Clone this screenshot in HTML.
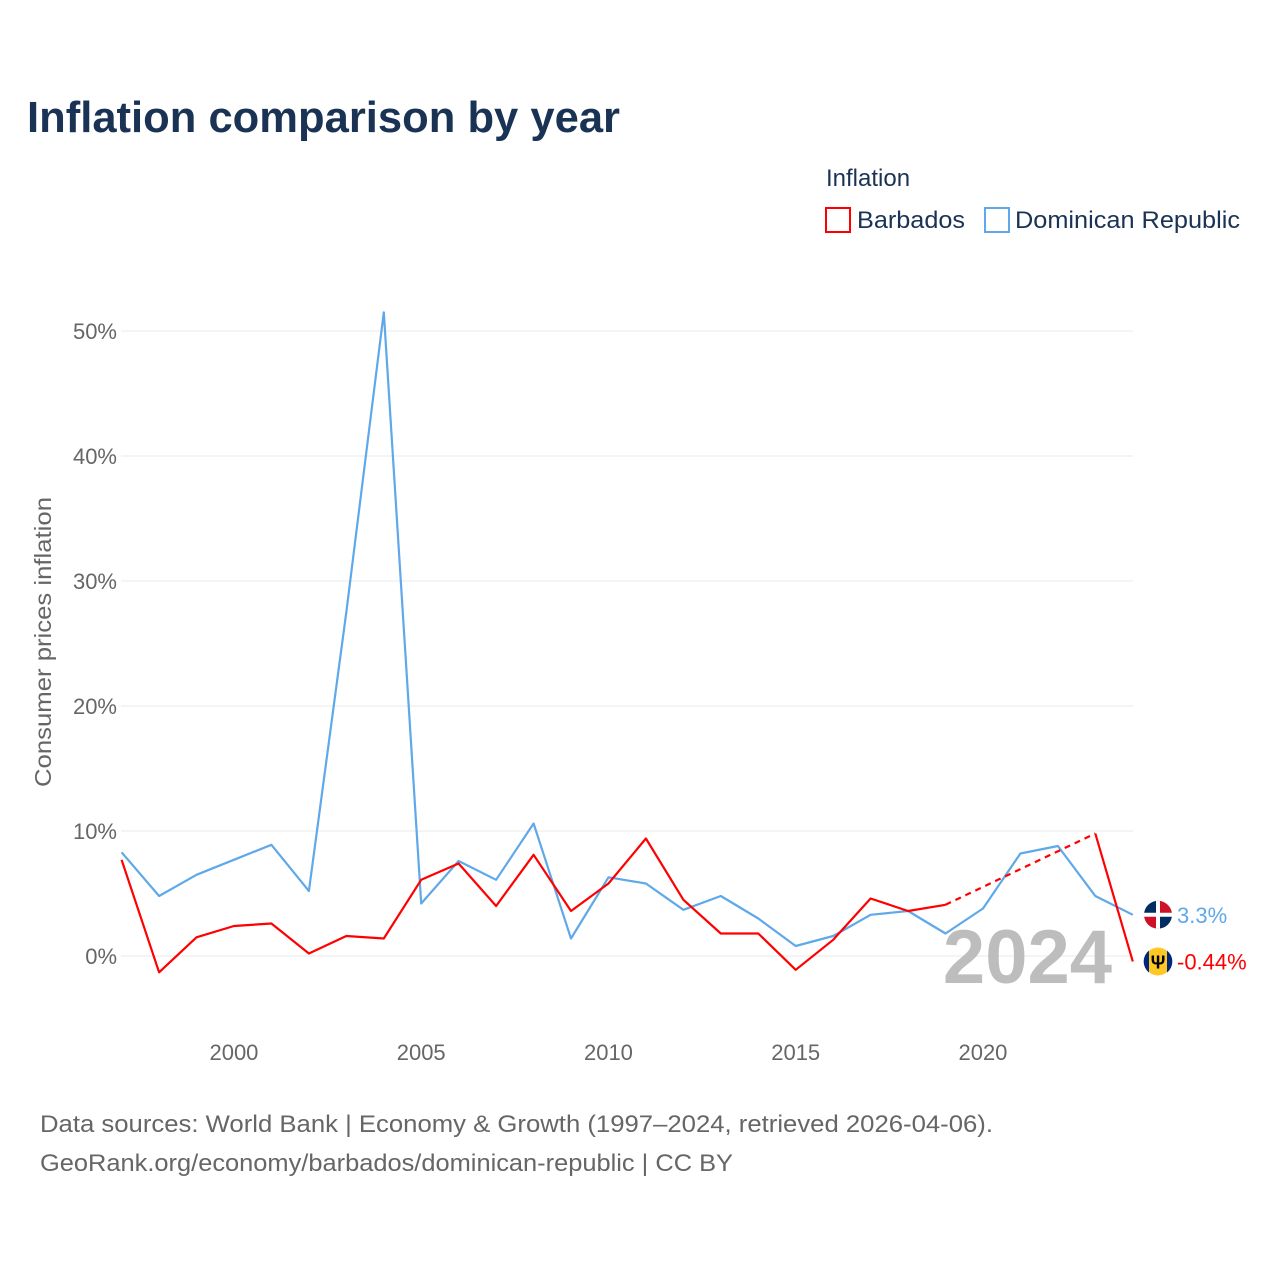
<!DOCTYPE html>
<html><head><meta charset="utf-8"><style>
body{margin:0;background:#fff;font-family:"Liberation Sans",sans-serif}
</style></head><body>
<svg id="chart" width="1280" height="1280" xmlns="http://www.w3.org/2000/svg" font-family="Liberation Sans, sans-serif">
<rect width="1280" height="1280" fill="#fff"/>
<text x="27" y="132" font-size="44" font-weight="bold" fill="#1a3355" textLength="593" lengthAdjust="spacingAndGlyphs">Inflation comparison by year</text>
<text x="826" y="186" font-size="24" fill="#1a3355">Inflation</text>
<g><rect x="826" y="208" width="24" height="24" fill="none" stroke="#ff0000" stroke-width="2"/><text x="857" y="228" font-size="24" fill="#1a3355" textLength="108" lengthAdjust="spacingAndGlyphs">Barbados</text></g>
<g><rect x="985" y="208" width="24" height="24" fill="none" stroke="#5fa8ea" stroke-width="2"/><text x="1015" y="228" font-size="24" fill="#1a3355" textLength="225" lengthAdjust="spacingAndGlyphs">Dominican Republic</text></g>
<text transform="translate(51,642) rotate(-90)" text-anchor="middle" font-size="23" fill="#666" textLength="290" lengthAdjust="spacingAndGlyphs">Consumer prices inflation</text>
<g id="grid"></g><g id="xt"></g>
<text x="1112" y="983" text-anchor="end" font-size="76" font-weight="bold" fill="#bdbdbd">2024</text>
<g id="series"></g>
<text x="40" y="1132" font-size="24" fill="#666" textLength="953" lengthAdjust="spacingAndGlyphs">Data sources: World Bank | Economy &amp; Growth (1997–2024, retrieved 2026-04-06).</text>
<text x="40" y="1171" font-size="24" fill="#666" textLength="693" lengthAdjust="spacingAndGlyphs">GeoRank.org/economy/barbados/dominican-republic | CC BY</text>
</svg>
<script>
const years=[1997,1998,1999,2000,2001,2002,2003,2004,2005,2006,2007,2008,2009,2010,2011,2012,2013,2014,2015,2016,2017,2018,2019,2020,2021,2022,2023,2024];
const barbados=[7.7,-1.3,1.5,2.4,2.6,0.2,1.6,1.4,6.1,7.4,4.0,8.1,3.6,5.8,9.4,4.5,1.8,1.8,-1.1,1.3,4.6,3.6,4.1,null,null,null,9.8,-0.44];
const dominican=[8.3,4.8,6.5,7.7,8.9,5.2,27.5,51.5,4.2,7.6,6.1,10.6,1.4,6.3,5.8,3.7,4.8,3.0,0.8,1.6,3.3,3.6,1.8,3.8,8.2,8.8,4.8,3.3];
const yTicks=[0,10,20,30,40,50];
const xTicks=[2000,2005,2010,2015,2020];
const NS="http://www.w3.org/2000/svg";
const X=y=>121.6+(y-1997)*37.45;
const Y=v=>956-v*12.5;
function mk(t,a,p){const e=document.createElementNS(NS,t);for(const k in a)e.setAttribute(k,a[k]);p.appendChild(e);return e;}
const g=document.getElementById('grid');
yTicks.forEach(t=>{
 const l=mk('line',{x1:121,x2:1133,y1:Y(t),y2:Y(t),stroke:'#e8e8e8','stroke-width':1},g);
 
 
 const tx=mk('text',{x:117,y:Y(t)+8,'text-anchor':'end','font-size':22,fill:'#666'},g);
 tx.textContent=t+'%';
 
 
});
const xt=document.getElementById('xt');
xTicks.forEach(t=>{
 const tx=mk('text',{x:X(t),y:1060,'text-anchor':'middle','font-size':22,fill:'#666'},xt);
 tx.textContent=t;
 
 
});
const s=document.getElementById('series');
function draw(vals,color,name){
 let d='',pen=false,last=null;
 vals.forEach((v,i)=>{
  if(v==null){pen=false;return;}
  if(!pen&&last!=null){
   const dl=mk('line',{x1:X(years[last]),y1:Y(vals[last]),x2:X(years[i]),y2:Y(v),stroke:color,'stroke-width':2.2,'stroke-dasharray':'6,5'},s);
   
   
  }
  d+=(pen?'L':'M')+X(years[i]).toFixed(1)+','+Y(v).toFixed(1);
  pen=true;last=i;
 });
 const p=mk('path',{d:d,fill:'none',stroke:color,'stroke-width':2.2,'stroke-linejoin':'round'},s);
 
 
}
draw(dominican,'#5fa8ea','dominican-republic');
draw(barbados,'#ff0000','barbados');
const n=years.length-1;
const dy=Y(dominican[n]), by=Y(barbados[n]);
const f1=mk('g',{},s);


mk('circle',{cx:1158,cy:dy,r:14,fill:'#fff'},f1);
mk('path',{d:`M1144,${dy}A14,14 0 0 1 1158,${dy-14}V${dy}Z`,fill:'#002d62'},f1);
mk('path',{d:`M1158,${dy-14}A14,14 0 0 1 1172,${dy}H1158Z`,fill:'#ce1126'},f1);
mk('path',{d:`M1144,${dy}A14,14 0 0 0 1158,${dy+14}V${dy}Z`,fill:'#ce1126'},f1);
mk('path',{d:`M1158,${dy+14}A14,14 0 0 0 1172,${dy}H1158Z`,fill:'#002d62'},f1);
mk('rect',{x:1144,y:dy-2,width:28,height:4,fill:'#fff'},f1);mk('rect',{x:1156,y:dy-14,width:4,height:28,fill:'#fff'},f1);
const t1=mk('text',{x:1177,y:dy+8,'font-size':22,fill:'#5fa8ea'},s);t1.textContent=dominican[n]+'%';


const f2=mk('g',{},s);


mk('circle',{cx:1158,cy:by,r:14,fill:'#ffc726'},f2);
mk('path',{d:`M1149,${by-11}A14,14 0 0 0 1149,${by+11}Z`,fill:'#00267f'},f2);
mk('path',{d:`M1167,${by-11}A14,14 0 0 1 1167,${by+11}Z`,fill:'#00267f'},f2);
const tr=mk('text',{x:1158,y:by+7,'text-anchor':'middle','font-size':18,'font-weight':'bold',fill:'#000'},f2);tr.textContent='Ψ';
const t2=mk('text',{x:1177,y:by+8,'font-size':22,fill:'#ff0000'},s);t2.textContent=barbados[n]+'%';


</script>
</body></html>
